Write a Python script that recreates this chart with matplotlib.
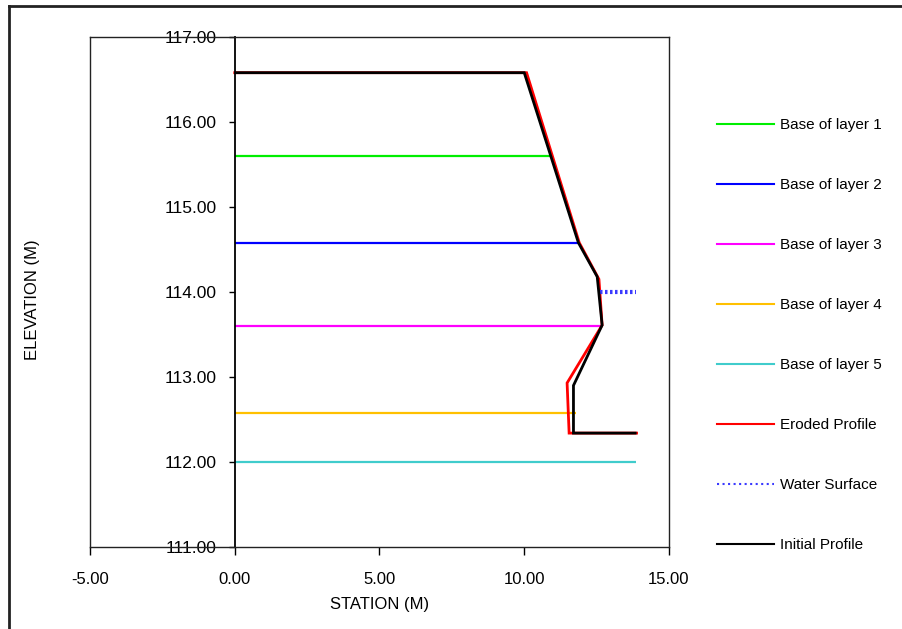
import matplotlib
matplotlib.use("Agg")
import matplotlib.pyplot as plt
from matplotlib.lines import Line2D

plt.rcParams['font.family'] = ['Liberation Sans', 'DejaVu Sans']

# Layer bases: elevation and the station where each meets the bank
layer_names = ["Base of layer 1", "Base of layer 2", "Base of layer 3",
               "Base of layer 4", "Base of layer 5"]
layer_elev = [115.60, 114.58, 113.60, 112.58, 112.00]
layer_end = [10.90, 11.87, 12.68, 11.80, 13.85]
layer_colors = ["#00ee00", "#0000ff", "#ff00ff", "#ffc000", "#40cccc"]

# Initial bank profile
initial_x = [0.0, 10.00, 11.87, 12.52, 12.69, 11.70, 11.70, 13.88]
initial_y = [116.58, 116.58, 114.58, 114.18, 113.61, 112.90, 112.34, 112.34]

# Eroded bank profile
eroded_x = [0.0, 10.08, 11.90, 12.58, 12.69, 11.48, 11.55, 13.88]
eroded_y = [116.58, 116.58, 114.58, 114.15, 113.61, 112.93, 112.34, 112.34]

# Water surface
water_x = [12.62, 13.85]
water_y = [114.00, 114.00]

xticks = [-5, 0, 5, 10, 15]
yticks = [111, 112, 113, 114, 115, 116, 117]

W, H = 903, 629
fig = plt.figure(figsize=(W / 100, H / 100), dpi=100)
ax = fig.add_axes([90 / W, 1 - 547 / H, (669 - 90) / W, (547 - 37) / H])

handles = []
for name, elev, end, col in zip(layer_names, layer_elev, layer_end, layer_colors):
    h, = ax.plot([0, end], [elev, elev], color=col, lw=1.6, label=name,
                 solid_capstyle='butt')
    handles.append(h)

h_er, = ax.plot(eroded_x, eroded_y, color="#ff0000", lw=2.0, label="Eroded Profile",
                solid_joinstyle='miter')
h_ws, = ax.plot(water_x, water_y, color="#3a3aff", lw=3.0, linestyle=(0, (0.6, 0.6)),
                label="Water Surface")
h_in, = ax.plot(initial_x, initial_y, color="black", lw=2.0, label="Initial Profile",
                solid_joinstyle='miter', solid_capstyle='butt')
handles += [h_er, h_ws, h_in]

ax.set_xlim(-5, 15)
ax.set_ylim(111, 117)

# Value axis crosses at station 0
ax.spines['left'].set_position(('data', 0))
ax.spines['left'].set_linewidth(1.3)
for s in ['top', 'right', 'bottom']:
    ax.spines[s].set_color('#222222')
    ax.spines[s].set_linewidth(1.0)
ax.add_line(Line2D([0, 0], [0, 1], transform=ax.transAxes, color='#222222', lw=1.0,
                   clip_on=False))

ax.set_xticks(xticks)
ax.set_xticklabels([f"{v:.2f}" for v in xticks])
ax.set_yticks(yticks)
ax.set_yticklabels([f"{v:.2f}" for v in yticks])
ax.tick_params(axis='x', direction='out', length=6, width=1, pad=12, labelsize=12)
ax.tick_params(axis='y', direction='out', length=4, width=1, pad=9, labelsize=12.5)

ax.set_xlabel("STATION (M)", fontsize=12, labelpad=7)
fig.text(33 / W, 1 - 300 / H, "ELEVATION (M)", rotation=90, fontsize=12,
         ha='center', va='center')

leg_handles = [Line2D([], [], color=h.get_color(), lw=1.5,
                      linestyle=':' if h is h_ws else '-') for h in handles]
fig.legend(leg_handles, [h.get_label() for h in handles],
           loc='upper left', bbox_to_anchor=(717 / W, 1 - 118.5 / H),
           frameon=False, fontsize=11, handlelength=3.7, handletextpad=0.4,
           labelspacing=3.01, borderpad=0, borderaxespad=0)

# Outer frame lines
fig.add_artist(Line2D([9 / W, 1], [1 - 6 / H, 1 - 6 / H], color='#222222', lw=2))
fig.add_artist(Line2D([9 / W, 9 / W], [0, 1 - 6 / H], color='#222222', lw=2))

fig.savefig("out.png", dpi=100)
